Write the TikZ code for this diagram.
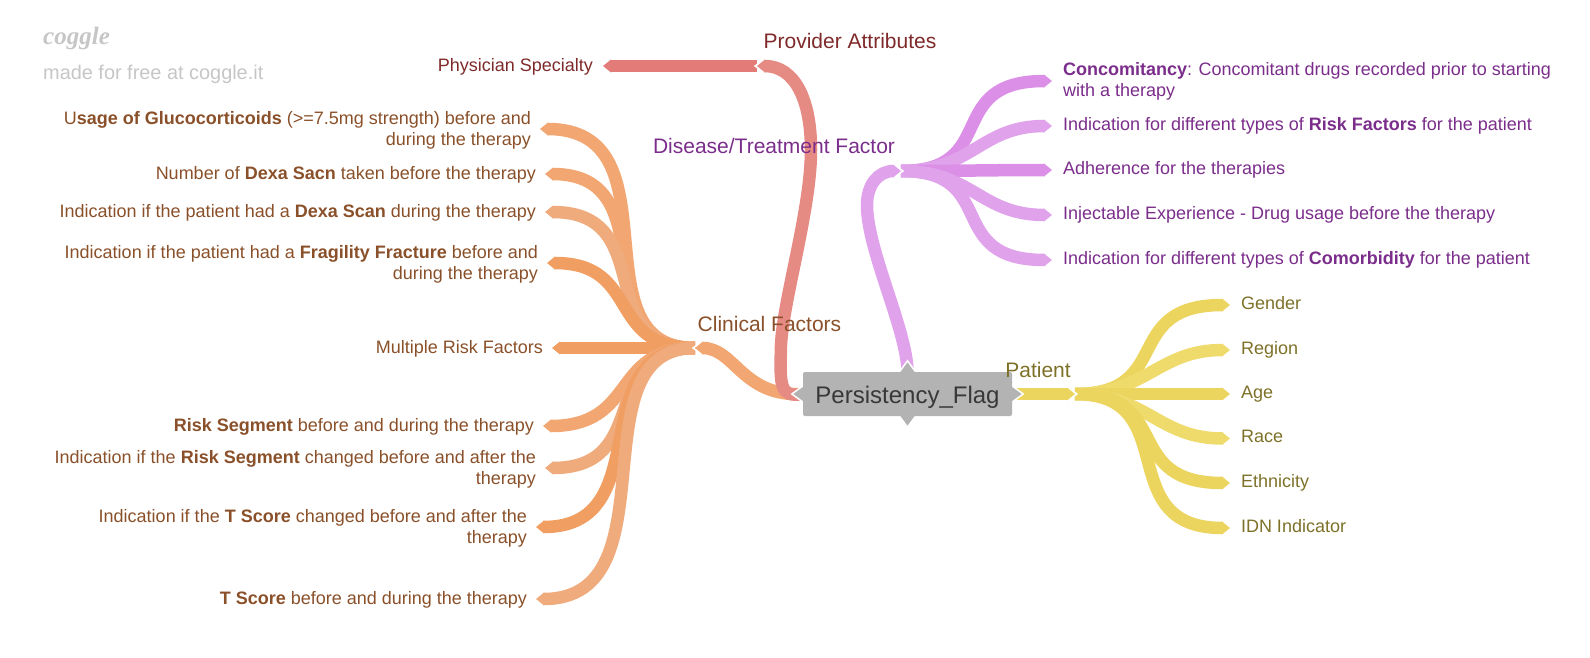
\documentclass[tikz,border=0pt]{standalone}
\usepackage{fontspec}
\setmainfont{Liberation Sans}
\newfontfamily\logofont{Liberation Serif}
\usetikzlibrary{arrows.meta, backgrounds, calc}
\definecolor{redA}{HTML}{E37C78}
\definecolor{redB}{HTML}{E68A84}
\definecolor{redT}{HTML}{7F2A2A}
\definecolor{oraA}{HTML}{F2A672}
\definecolor{oraB}{HTML}{EFAB7C}
\definecolor{oraC}{HTML}{F19E62}
\definecolor{oraT}{HTML}{8A5029}
\definecolor{purA}{HTML}{DC8FE6}
\definecolor{purB}{HTML}{E0A3EB}
\definecolor{purT}{HTML}{7B2D8B}
\definecolor{yelA}{HTML}{EBD55F}
\definecolor{yelB}{HTML}{EEDB6C}
\definecolor{yelT}{HTML}{7D7128}
\definecolor{rootC}{HTML}{B3B3B3}
\definecolor{logoC}{HTML}{C6C6C6}

\begin{document}
\begin{tikzpicture}[
  x=1pt, y=-1pt,
  branch/.style={line width=12.5pt, -{Triangle[length=8pt,width=12.5pt]}},
  notch/.style={draw=white, line width=1.5pt},
  leafL/.style={anchor=east, align=right, inner sep=0pt, outer xsep=9pt, font=\fontsize{18}{21}\selectfont, execute at begin node=\vphantom{Ap}},
  leafR/.style={anchor=west, align=left, inner sep=0pt, outer xsep=11pt, font=\fontsize{18}{21}\selectfont, execute at begin node=\vphantom{Ap}},
  topic/.style={inner sep=0pt, font=\fontsize{21}{24}\selectfont},
  rootnode/.style={fill=rootC, rounded corners=2pt, minimum width=209pt, minimum height=44pt, inner sep=0pt, text height=18pt, text depth=0pt, text=black!78, font=\fontsize{24}{28}\selectfont}
  ]
  \useasboundingbox (0,0) rectangle (1590,658);
  % logo
  \node[anchor=west, inner sep=0pt, text=logoC, font=\logofont\itshape\bfseries\fontsize{25}{28}\selectfont] (logo) at (43,38) {coggle};
  \node[anchor=west, inner sep=0pt, text=logoC, font=\fontsize{19.9}{22}\selectfont] (made) at (43,74) {made for free at coggle.it};
  % centre
  \node[rootnode] (root) at (907.5,394) {Persistency\_Flag};
  % topics
  \node[topic, text=redT] (prov) at (850,41) {Provider Attributes};
  \node[topic, text=purT] (dis) at (774,146) {Disease/Treatment Factor};
  \node[topic, text=oraT] (clin) at (769.5,324) {Clinical Factors};
  \node[topic, text=yelT] (pat) at (1038,370) {Patient};
  \coordinate (provhub) at (757,66);
  \coordinate (dishub) at (901,171);
  \coordinate (clinhub) at (695,348);
  \coordinate (pathub) at (1075,394);
  % left leaves
  \node[leafL, outer xsep=10pt, text=redT] (phys) at (603,67) {Physician Specialty};
  \node[leafL, text=oraT] (gluco) at (540,130) {U\textbf{sage of Glucocorticoids} (>=7.5mg strength) before and\\during the therapy};
  \node[leafL, text=oraT] (sacn) at (545,175) {Number of \textbf{Dexa Sacn} taken before the therapy};
  \node[leafL, text=oraT] (scan) at (545,213) {Indication if the patient had a \textbf{Dexa Scan} during the therapy};
  \node[leafL, text=oraT] (frag) at (547,264) {Indication if the patient had a \textbf{Fragility Fracture} before and\\during the therapy};
  \node[leafL, text=oraT] (multi) at (552,349) {Multiple Risk Factors};
  \node[leafL, text=oraT] (seg) at (543,427) {\textbf{Risk Segment} before and during the therapy};
  \node[leafL, text=oraT] (segch) at (545,469) {Indication if the \textbf{Risk Segment} changed before and after the\\therapy};
  \node[leafL, text=oraT] (tch) at (536,528) {Indication if the \textbf{T Score} changed before and after the\\therapy};
  \node[leafL, text=oraT] (tscore) at (536,600) {\textbf{T Score} before and during the therapy};
  % right leaves
  \node[leafR, text=purT] (conco) at (1052,81) {\textbf{Concomitancy}: Concomitant drugs recorded prior to starting\\with a therapy};
  \node[leafR, text=purT] (risk) at (1052,126) {Indication for different types of \textbf{Risk Factors} for the patient};
  \node[leafR, text=purT] (adh) at (1052,170) {Adherence for the therapies};
  \node[leafR, text=purT] (inj) at (1052,215) {Injectable Experience - Drug usage before the therapy};
  \node[leafR, text=purT] (como) at (1052,260) {Indication for different types of \textbf{Comorbidity} for the patient};
  \node[leafR, text=yelT] (gender) at (1230,305) {Gender};
  \node[leafR, text=yelT] (region) at (1230,350) {Region};
  \node[leafR, text=yelT] (age) at (1230,394) {Age};
  \node[leafR, text=yelT] (race) at (1230,438.5) {Race};
  \node[leafR, text=yelT] (eth) at (1230,483) {Ethnicity};
  \node[leafR, text=yelT] (idn) at (1230,528) {IDN Indicator};
  \begin{scope}[on background layer]
    % leaf branches
    \draw[branch, draw=redA] (provhub) -- ([yshift=1pt]phys.east);
    \foreach \n/\c/\p/\q in {gluco/oraA/122/140,sacn/oraA/115/125,scan/oraB/105/115,frag/oraC/90/95,multi/oraC/60/60,seg/oraA/85/95,segch/oraB/100/110,tch/oraC/115/125,tscore/oraB/122/140}
      \draw[branch, draw=\c] (clinhub) .. controls +(-\p,0) and +(\q,0) .. ([yshift=1pt]\n.east);
    \foreach \n/\c/\p/\q in {conco/purA/100/110,risk/purB/72/72,adh/purA/60/60,inj/purB/72/72,como/purB/100/110}
      \draw[branch, draw=\c] (dishub) .. controls +(\p,0) and +(-\q,0) .. (\n.west);
    \foreach \n/\c/\p/\q in {gender/yelA/100/110,region/yelB/72/72,age/yelA/60/60,race/yelB/72/72,eth/yelA/100/110,idn/yelA/110/120}
      \draw[branch, draw=\c] (pathub) .. controls +(\p,0) and +(-\q,0) .. (\n.west);
    % white edges at the hubs
    \foreach \h/\s in {provhub/1,clinhub/1,dishub/-1,pathub/-1}
      \draw[notch] ($(\h)+(\s*9,-7.5)$) -- ($(\h)+(-\s*2,0)$) -- ($(\h)+(\s*9,7.5)$);
    % main branches
    \draw[branch, draw=oraA] (root.west) .. controls (742,397) and (735,348) .. (clinhub);
    \draw[branch, draw=redB] (root.west) .. controls (779,398) and (780,385) .. (781,345)
      .. controls (783,300) and (811,210) .. (811,150) .. controls (811,100) and (795,66) .. (provhub);
    \draw[branch, draw=purB] (root.north) .. controls (907,330) and (867,250) .. (867,205)
      .. controls (867,185) and (878,171) .. (dishub);
    \draw[branch, draw=yelA] (root.east) -- (pathub);
    % points of the centre box
    \foreach \a/\dx/\dy in {west/-1/0,east/1/0,north/0/-1,south/0/1}
      \filldraw[fill=rootC, notch] ($(root.\a)+(\dy*8,\dx*8)$) -- ($(root.\a)+(\dx*11,\dy*11)$) -- ($(root.\a)+(-\dy*8,-\dx*8)$);
  \end{scope}
\end{tikzpicture}
\end{document}
